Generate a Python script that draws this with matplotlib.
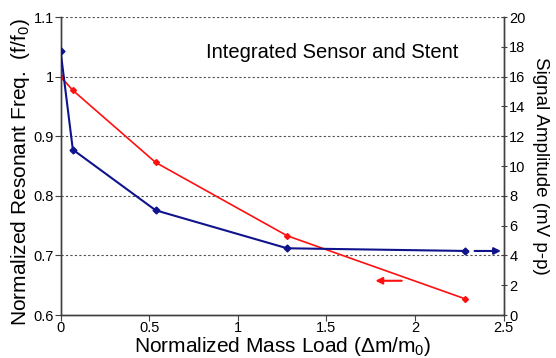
import matplotlib
matplotlib.use("Agg")
import matplotlib.pyplot as plt
from matplotlib.ticker import FuncFormatter

plt.rcParams['font.family'] = ['Liberation Sans', 'DejaVu Sans']
plt.rcParams['mathtext.default'] = 'regular'

# Data
mass_load = [0.0, 0.069, 0.536, 1.278, 2.284]
freq_norm = [1.0, 0.977, 0.856, 0.733, 0.627]          # left axis (red)
signal_amp = [17.7, 11.1, 7.03, 4.48, 4.3]             # right axis (blue)

x_ticks = [0, 0.5, 1, 1.5, 2, 2.5]
left_ticks = [0.6, 0.7, 0.8, 0.9, 1.0, 1.1]
right_ticks = list(range(0, 21, 2))

RED = '#ff1010'
BLUE = '#10148c'

fig = plt.figure(figsize=(5.56, 3.58), dpi=100)
ax = fig.add_axes([0.109, 0.120, 0.797, 0.8325])
ax2 = ax.twinx()

fmt = FuncFormatter(lambda v, p: f"{v:g}")

# horizontal grid
for t in left_ticks[1:]:
    ax.axhline(t, color='#505050', lw=0.8, ls=(0, (2, 2)), zorder=0)

ax.plot(mass_load, freq_norm, color=RED, lw=1.2, marker='D', ms=3, zorder=3)
ax2.plot(mass_load, signal_amp, color=BLUE, lw=1.5, marker='D', ms=3.5, zorder=3)

ax.set_xlim(0, 2.5)
ax.set_ylim(0.6, 1.1)
ax2.set_ylim(0, 20)
ax.set_xticks(x_ticks)
ax.set_yticks(left_ticks)
ax2.set_yticks(right_ticks)
ax.xaxis.set_major_formatter(fmt)
ax.yaxis.set_major_formatter(fmt)

for a in (ax, ax2):
    a.spines['top'].set_visible(False)
    for s in a.spines.values():
        s.set_color('#404040')
        s.set_linewidth(1.0)

ax.tick_params(axis='both', labelsize=10.5, length=4, width=0.8, pad=1, color='#404040')
ax.tick_params(axis='x', direction='out', pad=0.5)
ax2.tick_params(axis='y', labelsize=10.5, length=4, width=0.8, direction='inout', pad=2, color='#404040')

ax.set_xlabel('Normalized Mass Load (Δm/m$_0$)', fontsize=15, labelpad=0)
ax.set_ylabel('Normalized Resonant Freq.  (f/f$_0$)', fontsize=15)
ax.yaxis.set_label_coords(-0.064, 0.48)
ax2.set_ylabel('Signal Amplitude (mV p-p)', fontsize=13.5, rotation=-90, labelpad=17)

ax.text(0.82, 1.031, 'Integrated Sensor and Stent', fontsize=14.5, va='baseline', ha='left')

# direction arrows
ax.annotate('', xy=(1.76, 0.6575), xytext=(1.94, 0.6575),
            arrowprops=dict(arrowstyle='-|>', color=RED, lw=1.5, mutation_scale=10))
ax2.annotate('', xy=(2.5, 4.3), xytext=(2.32, 4.3),
             arrowprops=dict(arrowstyle='-|>', color=BLUE, lw=1.5, mutation_scale=10),
             annotation_clip=False)

fig.savefig('out.png', dpi=100)
